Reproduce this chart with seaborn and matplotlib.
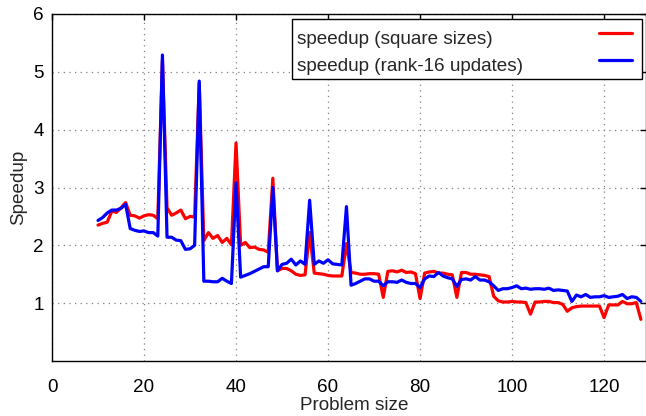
import numpy as np
import pandas as pd
import matplotlib
matplotlib.use("Agg")
import matplotlib.pyplot as plt
from matplotlib.lines import Line2D
from matplotlib.patches import Rectangle
import seaborn as sns

# ---- data ----
sizes = list(range(10, 129))
speedup_square = [
    2.35, 2.38, 2.40, 2.59, 2.57, 2.65, 2.74, 2.52, 2.51, 2.47,   # 10-19
    2.51, 2.53, 2.52, 2.46, 5.20, 2.65, 2.52, 2.56, 2.61, 2.46,   # 20-29
    2.50, 2.49, 4.80, 2.08, 2.22, 2.12, 2.17, 2.05, 2.12, 2.01,   # 30-39
    3.77, 2.00, 2.05, 1.96, 1.97, 1.93, 1.92, 1.88, 3.16, 1.56,   # 40-49
    1.60, 1.60, 1.56, 1.50, 1.48, 1.49, 2.22, 1.52, 1.51, 1.50,   # 50-59
    1.48, 1.47, 1.47, 1.47, 2.03, 1.53, 1.52, 1.50, 1.50, 1.51,   # 60-69
    1.51, 1.50, 1.10, 1.55, 1.56, 1.54, 1.57, 1.53, 1.54, 1.51,   # 70-79
    1.08, 1.52, 1.54, 1.55, 1.52, 1.52, 1.50, 1.49, 1.10, 1.53,   # 80-89
    1.53, 1.50, 1.50, 1.49, 1.48, 1.46, 1.12, 1.04, 1.02, 1.02,   # 90-99
    1.03, 1.02, 1.02, 1.01, 0.81, 1.02, 1.02, 1.03, 1.03, 1.01,   # 100-109
    1.01, 0.98, 0.86, 0.92, 0.94, 0.95, 0.95, 0.95, 0.95, 0.95,   # 110-119
    0.75, 0.97, 0.97, 0.97, 1.03, 0.99, 0.99, 1.01, 0.72,         # 120-128
]
speedup_rank16 = [
    2.43, 2.48, 2.56, 2.61, 2.61, 2.64, 2.71, 2.29, 2.26, 2.24,   # 10-19
    2.25, 2.22, 2.22, 2.16, 5.29, 2.14, 2.14, 2.09, 2.08, 1.93,   # 20-29
    1.94, 2.00, 4.84, 1.38, 1.38, 1.37, 1.37, 1.43, 1.38, 1.34,   # 30-39
    3.08, 1.45, 1.48, 1.51, 1.55, 1.59, 1.63, 1.63, 3.00, 1.56,   # 40-49
    1.67, 1.69, 1.76, 1.66, 1.73, 1.67, 2.78, 1.67, 1.73, 1.69,   # 50-59
    1.75, 1.68, 1.67, 1.66, 2.67, 1.31, 1.34, 1.38, 1.42, 1.42,   # 60-69
    1.38, 1.38, 1.30, 1.37, 1.37, 1.36, 1.40, 1.36, 1.34, 1.34,   # 70-79
    1.27, 1.42, 1.47, 1.46, 1.53, 1.47, 1.44, 1.42, 1.29, 1.41,   # 80-89
    1.42, 1.40, 1.46, 1.40, 1.40, 1.37, 1.30, 1.22, 1.25, 1.25,   # 90-99
    1.27, 1.30, 1.25, 1.26, 1.24, 1.25, 1.25, 1.24, 1.26, 1.22,   # 100-109
    1.23, 1.22, 1.21, 1.03, 1.14, 1.11, 1.15, 1.10, 1.11, 1.11,   # 110-119
    1.13, 1.10, 1.11, 1.12, 1.15, 1.08, 1.11, 1.10, 1.03,         # 120-128
]
series_labels = ["speedup (square sizes)", "speedup (rank-16 updates)"]
series_colors = ["#ff0000", "#0000ff"]
x_ticks = [0, 20, 40, 60, 80, 100, 120]
y_ticks = [1, 2, 3, 4, 5, 6]

df = pd.DataFrame({
    "size": sizes * 2,
    "speedup": speedup_square + speedup_rank16,
    "series": [series_labels[0]] * len(sizes) + [series_labels[1]] * len(sizes),
})

sns.set_style("white")
plt.rcParams["font.family"] = ["Liberation Sans", "DejaVu Sans"]
FS = 13.6
plt.rcParams["font.size"] = FS

W, H = 646, 416
fig = plt.figure(figsize=(W / 100, H / 100), dpi=100)
ax_left, ax_right, ax_top, ax_bot = 52, 645.5, 14, 361
ax = fig.add_axes([ax_left / W, 1 - ax_bot / H, (ax_right - ax_left) / W, (ax_bot - ax_top) / H])

sns.lineplot(data=df, x="size", y="speedup", hue="series", palette=series_colors,
             hue_order=series_labels, linewidth=2.3, ax=ax, legend=False,
             estimator=None, sort=False)

ax.set_xlim(0, 129)
ax.set_ylim(0, 6)
ax.set_xticks(x_ticks)
ax.set_yticks(y_ticks)
ax.grid(True, linestyle=(0, (1, 3.5)), color="#808080", linewidth=0.9)
ax.set_axisbelow(True)
for s in ax.spines.values():
    s.set_visible(True)
    s.set_color("black")
    s.set_linewidth(1.0)
ax.tick_params(axis="both", which="major", direction="in", length=4, width=1,
               top=True, right=True, labelsize=FS, colors="black")
ax.tick_params(axis="x", pad=13)
ax.tick_params(axis="y", pad=6)
ax.set_xlabel("Problem size", fontsize=FS)
ax.xaxis.set_label_coords(0.51, -0.104)
ax.set_ylabel("Speedup", fontsize=FS, labelpad=4)

# ---- legend (gnuplot style: text left, sample line right) ----
def fx(px):
    return px / W

def fy(py):
    return 1 - py / H

fig.add_artist(Rectangle((fx(292), fy(79)), fx(642) - fx(292), fy(19) - fy(79),
                         transform=fig.transFigure, facecolor="white",
                         edgecolor="black", linewidth=1.0, zorder=5))
for lbl, col, base_py, line_py in zip(series_labels, series_colors, [43.5, 71], [32.5, 59.5]):
    fig.text(fx(297), fy(base_py), lbl, ha="left", va="baseline", fontsize=FS, zorder=6)
    fig.add_artist(Line2D([fx(599), fx(632)], [fy(line_py), fy(line_py)],
                          transform=fig.transFigure, color=col, linewidth=2.3, zorder=6))

fig.savefig("out.png", dpi=100)
